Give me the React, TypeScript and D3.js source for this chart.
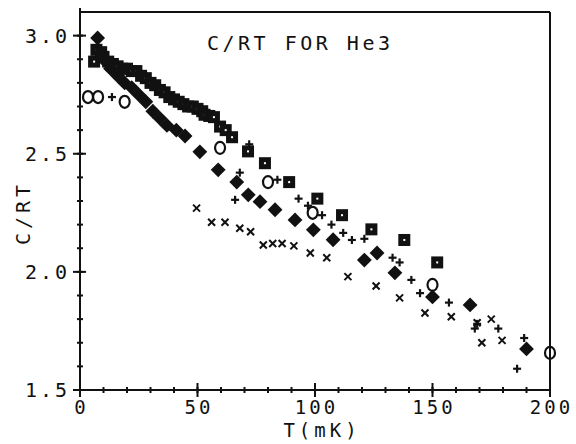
import React from "react";
import * as d3 from "d3";

// Filled diamonds
const diaT = [7.5, 10, 13, 16, 19, 22, 25, 28, 31, 34, 37, 41, 44.7, 51, 58.8, 66.7, 71.6, 76.6, 83, 91.5, 99.3, 107.7, 121, 126.4, 134, 150, 166, 190];
const diaC = [2.99, 2.9, 2.86, 2.83, 2.8, 2.78, 2.75, 2.72, 2.68, 2.65, 2.62, 2.6, 2.575, 2.508, 2.432, 2.38, 2.326, 2.297, 2.263, 2.22, 2.178, 2.136, 2.05, 2.08, 1.996, 1.894, 1.86, 1.674];

// Squares (with white center)
const sqT = [6, 7, 9, 10, 12, 14, 16, 18, 20, 22, 24, 26, 28, 30, 32, 34, 36, 38, 40, 42, 44, 46, 48, 50, 52, 53, 55, 57, 59.6, 62, 64.7, 71.5, 78.7, 89, 101, 111.5, 124, 138, 152];
const sqC = [2.89, 2.94, 2.93, 2.91, 2.89, 2.88, 2.87, 2.86, 2.86, 2.85, 2.85, 2.83, 2.82, 2.8, 2.79, 2.77, 2.76, 2.74, 2.73, 2.72, 2.71, 2.7, 2.7, 2.69, 2.68, 2.665, 2.66, 2.655, 2.615, 2.6, 2.57, 2.51, 2.46, 2.38, 2.31, 2.24, 2.18, 2.135, 2.04];

// Open circles
const circT = [3.4, 7.7, 19, 59.6, 80, 99, 150, 200];
const circC = [2.74, 2.74, 2.72, 2.525, 2.38, 2.25, 1.945, 1.657];

// Plus signs
const plusT = [13.6, 66, 68, 72, 84, 93, 97, 103, 107, 112, 115.7, 121, 133, 136, 141, 144.7, 157, 168, 169, 178, 186, 189];
const plusC = [2.74, 2.305, 2.42, 2.54, 2.39, 2.31, 2.28, 2.24, 2.2, 2.165, 2.135, 2.14, 2.06, 2.04, 1.966, 1.91, 1.87, 1.76, 1.78, 1.76, 1.59, 1.72];

// x crosses
const xT = [49.6, 56, 61.7, 68, 72.6, 78, 82, 86, 91, 98, 105, 114, 126, 136, 146.8, 158, 169, 171, 175, 179.6];
const xC = [2.27, 2.21, 2.21, 2.185, 2.17, 2.114, 2.12, 2.12, 2.11, 2.08, 2.06, 1.98, 1.94, 1.89, 1.826, 1.81, 1.785, 1.7, 1.8, 1.71];

const xMajor = [0, 50, 100, 150, 200];
const xMajorLabels = ["0", "50", "100", "150", "200"];
const yMajor = [1.5, 2.0, 2.5, 3.0];
const yMajorLabels = ["1.5", "2.0", "2.5", "3.0"];

const FONT = "'DejaVu Sans Mono', 'Liberation Mono', monospace";

export default function App() {
  const x = d3.scaleLinear().domain([0, 200]).range([80, 550]);
  const y = d3.scaleLinear().domain([1.5, 3.1]).range([390, 12]);
  const xMinor = d3.range(0, 201, 10);
  const yMinor = d3.range(15, 31, 1).map((v) => v / 10);
  const ink = "#111";

  const diamond = d3.symbol().type(d3.symbolSquare).size(110)();

  return (
    <svg width={576} height={444} style={{ position: "absolute", left: 0, top: 0, background: "#fff" }}>
      {/* frame */}
      <line x1={x(0)} x2={x(0)} y1={8} y2={y(1.5) + 7} stroke={ink} strokeWidth={2} />
      <line x1={x(0) - 7} x2={x(200)} y1={y(1.5)} y2={y(1.5)} stroke={ink} strokeWidth={2} />
      <line x1={x(0)} x2={x(200)} y1={y(3.1)} y2={y(3.1)} stroke={ink} strokeWidth={2} />
      <line x1={x(200)} x2={x(200)} y1={y(3.1)} y2={y(1.5)} stroke={ink} strokeWidth={2} />
      {/* minor ticks */}
      {xMinor.map((t) => (
        <line key={"xm" + t} x1={x(t)} x2={x(t)} y1={y(1.5) - 3} y2={y(1.5) + 3} stroke={ink} strokeWidth={2} />
      ))}
      {yMinor.map((t) => (
        <line key={"ym" + t} x1={x(0) - 3} x2={x(0) + 3} y1={y(t)} y2={y(t)} stroke={ink} strokeWidth={2} />
      ))}
      {/* major ticks */}
      {xMajor.map((t) => (
        <line key={"xM" + t} x1={x(t)} x2={x(t)} y1={y(1.5) - 7} y2={y(1.5) + 7} stroke={ink} strokeWidth={2} />
      ))}
      {yMajor.map((t) => (
        <line key={"yM" + t} x1={x(0) - 7} x2={x(0) + 6} y1={y(t)} y2={y(t)} stroke={ink} strokeWidth={2} />
      ))}
      {/* tick labels */}
      {xMajor.map((t, i) => (
        <text key={"xl" + t} x={x(t) + 1.5} y={414} textAnchor="middle" fontFamily={FONT} fontSize={19} letterSpacing={3} fill={ink}>
          {xMajorLabels[i]}
        </text>
      ))}
      {yMajor.map((t, i) => (
        <text key={"yl" + t} x={70} y={y(t) + 7} textAnchor="end" fontFamily={FONT} fontSize={20} letterSpacing={3} fill={ink}>
          {yMajorLabels[i]}
        </text>
      ))}
      <text x={322} y={437} textAnchor="middle" fontFamily={FONT} fontSize={19} letterSpacing={4} fill={ink}>T(mK)</text>
      <text transform="translate(30,213) rotate(-90)" textAnchor="middle" fontFamily={FONT} fontSize={20} letterSpacing={4} fill={ink}>C/RT</text>
      <text x={207} y={50} fontFamily={FONT} fontSize={20} letterSpacing={3.5} fill={ink}>C/RT FOR He3</text>

      {/* circles */}
      {circT.map((t, i) => (
        <ellipse key={"c" + i} cx={x(t)} cy={y(circC[i])} rx={5} ry={6} fill="none" stroke={ink} strokeWidth={2.2} />
      ))}
      {/* squares */}
      {sqT.map((t, i) => (
        <g key={"s" + i} transform={`translate(${x(t)},${y(sqC[i])})`}>
          <rect x={-6} y={-6} width={12} height={12} fill={ink} />
          <rect x={-1} y={-1} width={2} height={2} fill="#fff" />
        </g>
      ))}
      {/* diamonds */}
      {diaT.map((t, i) => (
        <path key={"d" + i} d={diamond ?? ""} transform={`translate(${x(t)},${y(diaC[i])}) rotate(45)`} fill={ink} />
      ))}
      {/* plus */}
      {plusT.map((t, i) => (
        <g key={"p" + i} transform={`translate(${x(t)},${y(plusC[i])})`} stroke={ink} strokeWidth={2.2}>
          <line x1={-4} x2={4} y1={0} y2={0} />
          <line x1={0} x2={0} y1={-4} y2={4} />
        </g>
      ))}
      {/* x */}
      {xT.map((t, i) => (
        <g key={"x" + i} transform={`translate(${x(t)},${y(xC[i])})`} stroke={ink} strokeWidth={2}>
          <line x1={-3.5} x2={3.5} y1={-3.5} y2={3.5} />
          <line x1={-3.5} x2={3.5} y1={3.5} y2={-3.5} />
        </g>
      ))}
    </svg>
  );
}
